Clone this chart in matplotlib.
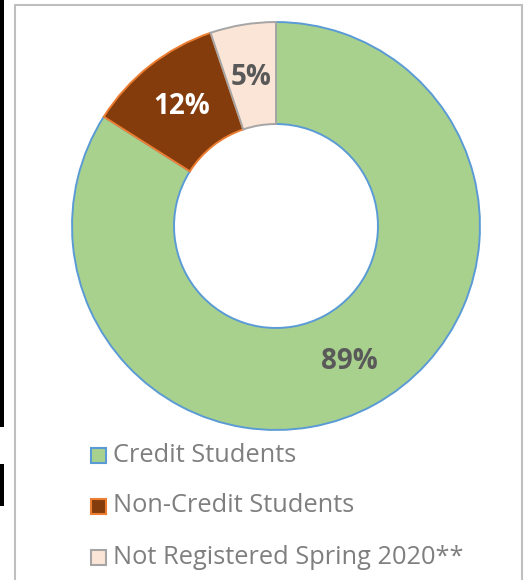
import matplotlib
matplotlib.use("Agg")
import matplotlib.pyplot as plt
from matplotlib.patches import Rectangle

categories = ["Credit Students", "Non-Credit Students", "Not Registered Spring 2020**"]
sizes = [84.0, 10.8, 5.2]
labels = ["89%", "12%", "5%"]
face_colors = ["#A9D18E", "#843C0C", "#FBE5D6"]
edge_colors = ["#5B9BD5", "#ED7D31", "#A5A5A5"]
label_colors = ["#595959", "#FFFFFF", "#595959"]

W, H = 527, 580
fig = plt.figure(figsize=(W / 100, H / 100), dpi=100)
fig.patch.set_facecolor("white")

def fx(px):
    return px / W

def fy(py):
    return 1 - py / H

# chart border
fig.patches.append(Rectangle((fx(15), fy(590)), fx(522) - fx(15), fy(5) - fy(590),
                             transform=fig.transFigure, fill=False,
                             edgecolor="#BFBFBF", linewidth=1.5, zorder=0))
# black bars on left edge
fig.patches.append(Rectangle((0, fy(427)), fx(3.5), fy(0) - fy(427),
                             transform=fig.transFigure, facecolor="black",
                             edgecolor="none"))
fig.patches.append(Rectangle((0, fy(506)), fx(3.5), fy(464) - fy(506),
                             transform=fig.transFigure, facecolor="black",
                             edgecolor="none"))

cx, cy, R = 276, 226, 206
ax = fig.add_axes([fx(cx - R), fy(cy + R), 2 * R / W, 2 * R / H])
wedges, _ = ax.pie(sizes, colors=face_colors, startangle=90, counterclock=False,
                   radius=1.0, wedgeprops=dict(width=0.5, linewidth=1.4))
for w, ec in zip(wedges, edge_colors):
    w.set_edgecolor(ec)
ax.set_xlim(-1.01, 1.01)
ax.set_ylim(-1.01, 1.01)
ax.set_aspect("auto")
ax.axis("off")

label_px = [(350, 362.5), (181, 105.5), (250.5, 76)]
for (px, py), txt, col in zip(label_px, labels, label_colors):
    ax.text((px - cx) / R, (cy - py) / R, txt, ha="center", va="center",
            fontsize=20, fontweight="bold", color=col, family="Open Sans")

# legend
rows = [455, 506, 557]
for yy, cat, fc, ec in zip(rows, categories, face_colors, edge_colors):
    fig.patches.append(Rectangle((fx(91), fy(yy + 7.5)), fx(15), fy(yy - 7.5) - fy(yy + 7.5),
                                 transform=fig.transFigure, facecolor=fc,
                                 edgecolor=ec, linewidth=1.5))
    fig.text(fx(113), fy(yy), cat, ha="left", va="center", fontsize=18.3,
             color="#7F7F7F", family="Open Sans")

fig.savefig("out.png", dpi=100)
